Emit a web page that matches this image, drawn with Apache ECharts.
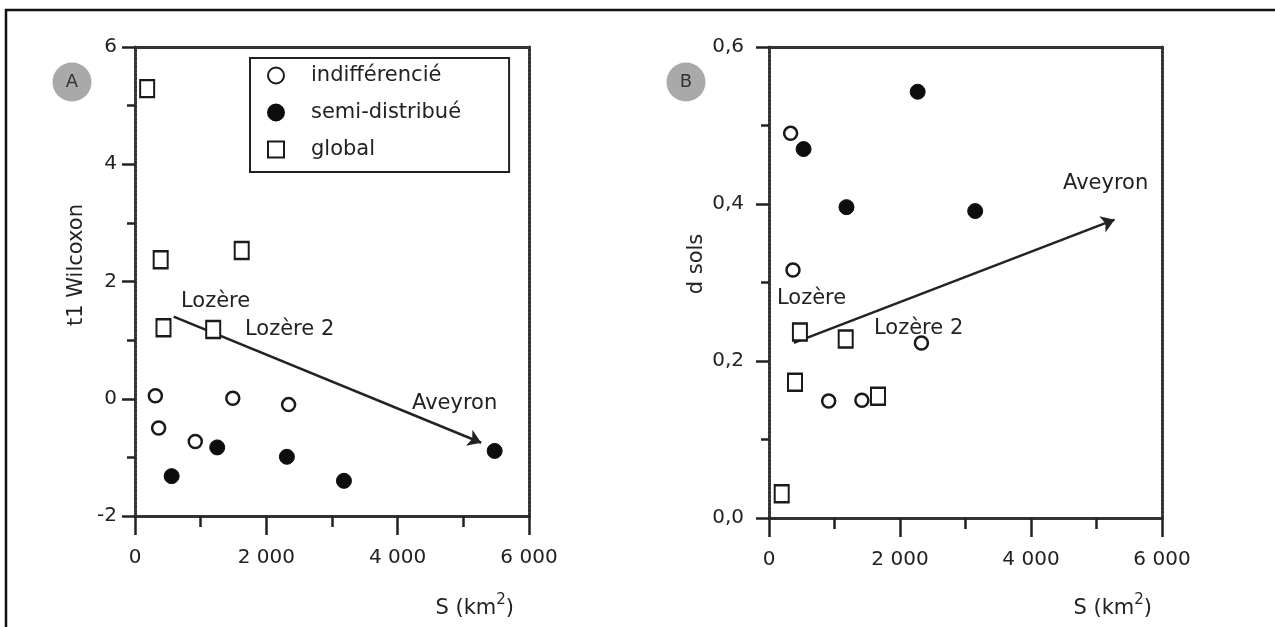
<!DOCTYPE html>
<html>
<head>
<meta charset="utf-8">
<script src="https://cdn.jsdelivr.net/npm/echarts@6/dist/echarts.min.js"></script>
<style>html,body{margin:0;padding:0;background:#fff;}#c{width:1275px;height:627px;}</style>
</head>
<body>
<div id="c"></div>
<script>
// ---- Data ----
// Panel A : t1 Wilcoxon vs S (km2)
const aIndifX = [310, 360, 918, 1489, 2339];
const aIndifY = [0.05, -0.50, -0.73, 0.01, -0.10];
const aSemiX = [558, 1252, 2313, 3182, 5477];
const aSemiY = [-1.32, -0.83, -0.99, -1.40, -0.89];
const aGlobX = [185, 391, 1625, 434, 1191];
const aGlobY = [5.29, 2.37, 2.53, 1.21, 1.18];
const aArrowX = [589, 5272];
const aArrowY = [1.40, -0.75];
// Panel B : d sols vs S (km2)
const bIndifX = [330, 366, 911, 1418, 2327];
const bIndifY = [0.49, 0.316, 0.149, 0.150, 0.223];
const bSemiX = [528, 1183, 2270, 3148];
const bSemiY = [0.470, 0.396, 0.543, 0.391];
const bGlobX = [472, 1171, 397, 1664, 194];
const bGlobY = [0.237, 0.228, 0.173, 0.155, 0.031];
const bArrowX = [379, 5275];
const bArrowY = [0.223, 0.380];

const seriesNames = ['indifférencié', 'semi-distribué', 'global'];
const xTicks = [0, 2000, 4000, 6000];
const aYTicks = [-2, 0, 2, 4, 6];
const bYTicks = [0, 0.2, 0.4, 0.6];
const xTitle = 'S (km';
const aYTitle = 't1 Wilcoxon';
const bYTitle = 'd sols';

const zip = (xs, ys) => xs.map((x, i) => [x, ys[i]]);

const FONT = '"DejaVu Sans", Verdana, sans-serif';
const TXT = '#222';
const lineSty = { color: '#333', width: 3, type: [3, 1] };

function xAxisMain(grid, labelMargin) {
  return {
    gridIndex: grid, type: 'value', min: xTicks[0], max: xTicks[xTicks.length - 1], interval: 2000,
    axisLine: { show: true, onZero: false, lineStyle: lineSty },
    axisTick: { show: true, length: 19, lineStyle: { color: '#222', width: 2.5 } },
    minorTick: { show: true, splitNumber: 2, length: 11, lineStyle: { color: '#222', width: 2.5 } },
    splitLine: { show: false },
    axisLabel: {
      margin: labelMargin, color: TXT, fontFamily: FONT, fontSize: 20,
      formatter: v => String(v).replace(/\B(?=(\d{3})+(?!\d))/g, ' ')
    }
  };
}
function xAxisTop(grid) {
  return {
    gridIndex: grid, type: 'value', position: 'top', min: 0, max: 6000,
    axisLine: { show: true, onZero: false, lineStyle: lineSty }, axisTick: { show: false },
    axisLabel: { show: false }, splitLine: { show: false }
  };
}
function yAxisMain(grid, min, max, interval, margin, fmt) {
  return {
    gridIndex: grid, type: 'value', min: min, max: max, interval: interval,
    axisLine: { show: true, onZero: false, lineStyle: lineSty },
    axisTick: { show: true, length: 13, lineStyle: { color: '#222', width: 2.5 } },
    minorTick: { show: true, splitNumber: 2, length: 8, lineStyle: { color: '#222', width: 2.5 } },
    splitLine: { show: false },
    axisLabel: { margin: margin, color: TXT, fontFamily: FONT, fontSize: 20, formatter: fmt }
  };
}
function yAxisRight(grid, min, max) {
  return {
    gridIndex: grid, type: 'value', position: 'right', min: min, max: max,
    axisLine: { show: true, onZero: false, lineStyle: lineSty }, axisTick: { show: false },
    axisLabel: { show: false }, splitLine: { show: false }
  };
}

const openStyle = { color: '#fff', borderColor: '#1a1a1a', borderWidth: 2.5, opacity: 1 };
const fillStyle = { color: '#0d0d0d', borderColor: '#0d0d0d', borderWidth: 1, opacity: 1 };
const rectStyle = { color: '#fff', borderColor: '#1a1a1a', borderWidth: 2.2, opacity: 1 };

function scatter(name, data, xi, yi, kind) {
  const s = { name: name, type: 'scatter', xAxisIndex: xi, yAxisIndex: yi, data: data, z: 3 };
  if (kind === 'open') { s.symbol = 'circle'; s.symbolSize = 13; s.itemStyle = openStyle; }
  if (kind === 'fill') { s.symbol = 'circle'; s.symbolSize = 15; s.itemStyle = fillStyle; }
  if (kind === 'rect') { s.symbol = 'rect'; s.symbolSize = [14, 17]; s.itemStyle = rectStyle; }
  return s;
}
function arrow(xs, ys, xi, yi) {
  return {
    type: 'lines', coordinateSystem: 'cartesian2d', xAxisIndex: xi, yAxisIndex: yi,
    symbol: ['none', 'arrow'], symbolSize: 13, silent: true, z: 2,
    lineStyle: { color: '#222', width: 2.5, opacity: 1 },
    data: [{ coords: zip(xs, ys) }]
  };
}
function txt(x, y, text, align, extra) {
  return Object.assign({
    type: 'text', x: x, y: y, z: 10,
    style: { text: text, fill: TXT, font: '21px ' + FONT, textAlign: align || 'left', textVerticalAlign: 'middle' }
  }, extra || {});
}
function xTitleText(x) {
  return {
    type: 'text', x: x, y: 606, z: 10,
    style: {
      text: '{m|' + xTitle + '}{s|2}{m|)}', fill: TXT, textAlign: 'right', textVerticalAlign: 'middle',
      rich: {
        m: { fontSize: 21, fontFamily: FONT, fill: TXT, lineHeight: 26, verticalAlign: 'bottom' },
        s: { fontSize: 15, fontFamily: FONT, fill: TXT, lineHeight: 15, verticalAlign: 'top' }
      }
    }
  };
}
function badge(cx, cy, letter) {
  return [
    { type: 'circle', shape: { cx: cx, cy: cy, r: 19.5 }, style: { fill: '#a9a9a9' }, z: 10 },
    { type: 'text', x: cx, y: cy, z: 11, style: { text: letter, fill: '#333', font: '18px ' + FONT, textAlign: 'center', textVerticalAlign: 'middle' } }
  ];
}

const option = {
  animation: false,
  backgroundColor: '#fff',
  grid: [
    { left: 135, top: 47, width: 394, height: 469 },
    { left: 769, top: 47, width: 393, height: 471 }
  ],
  xAxis: [xAxisMain(0, 32), xAxisTop(0), xAxisMain(1, 32), xAxisTop(1)],
  yAxis: [
    yAxisMain(0, aYTicks[0], aYTicks[aYTicks.length - 1], 2, 18, v => String(v)),
    yAxisRight(0, aYTicks[0], aYTicks[aYTicks.length - 1]),
    yAxisMain(1, bYTicks[0], bYTicks[bYTicks.length - 1], 0.2, 25, v => v.toFixed(1).replace('.', ',')),
    yAxisRight(1, bYTicks[0], bYTicks[bYTicks.length - 1])
  ],
  legend: {
    data: seriesNames, orient: 'vertical', left: 250, top: 58,
    padding: [7, 48, 12, 17], itemGap: 16, itemWidth: 16, itemHeight: 16,
    borderColor: '#222', borderWidth: 2, backgroundColor: '#fff',
    selectedMode: false,
    textStyle: { color: TXT, fontFamily: FONT, fontSize: 21, padding: [0, 0, 0, 22] }
  },
  series: [
    arrow(aArrowX, aArrowY, 0, 0),
    scatter(seriesNames[0], zip(aIndifX, aIndifY), 0, 0, 'open'),
    scatter(seriesNames[1], zip(aSemiX, aSemiY), 0, 0, 'fill'),
    scatter(seriesNames[2], zip(aGlobX, aGlobY), 0, 0, 'rect'),
    arrow(bArrowX, bArrowY, 2, 2),
    scatter(seriesNames[0], zip(bIndifX, bIndifY), 2, 2, 'open'),
    scatter(seriesNames[1], zip(bSemiX, bSemiY), 2, 2, 'fill'),
    scatter(seriesNames[2], zip(bGlobX, bGlobY), 2, 2, 'rect')
  ],
  graphic: [
    { type: 'line', shape: { x1: 5, y1: 10, x2: 1275, y2: 10 }, style: { stroke: '#111', lineWidth: 2.5 }, z: 10 },
    { type: 'line', shape: { x1: 6, y1: 9, x2: 6, y2: 627 }, style: { stroke: '#111', lineWidth: 2.5 }, z: 10 },
    ...badge(72, 82, 'A'),
    ...badge(686, 82, 'B'),
    txt(77, 265, aYTitle, 'center', { rotation: Math.PI / 2 }),
    txt(697, 264, bYTitle, 'center', { rotation: Math.PI / 2 }),
    xTitleText(514),
    xTitleText(1152),
    txt(181, 302, 'Lozère'),
    txt(245, 330, 'Lozère 2'),
    txt(412, 404, 'Aveyron'),
    txt(777, 299, 'Lozère'),
    txt(874, 329, 'Lozère 2'),
    txt(1063, 184, 'Aveyron')
  ]
};

const chart = echarts.init(document.getElementById('c'), null, { renderer: 'canvas' });
chart.setOption(option);
</script>
</body>
</html>
